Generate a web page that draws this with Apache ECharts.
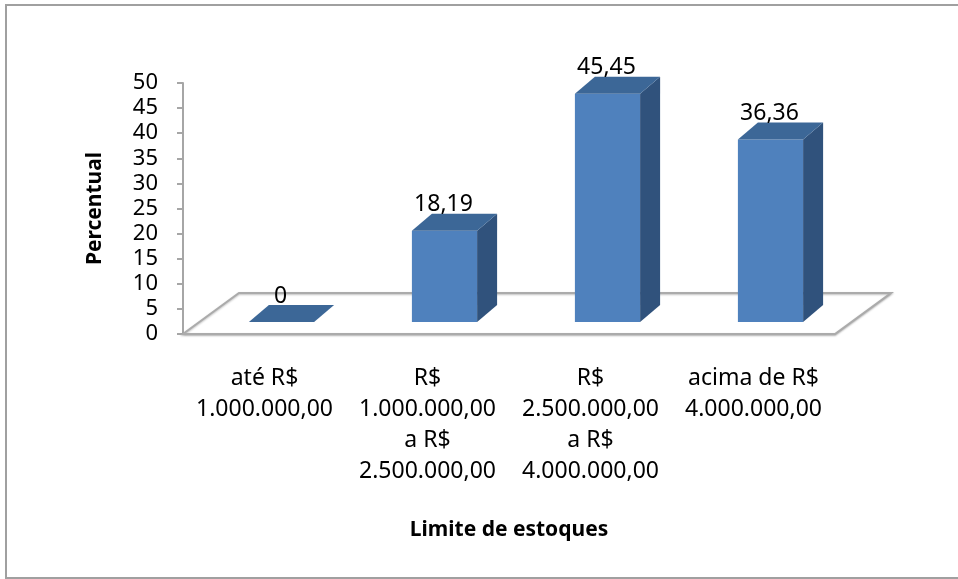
<!DOCTYPE html>
<html>
<head>
<meta charset="utf-8">
<script src="https://cdn.jsdelivr.net/npm/echarts@6/dist/echarts.min.js"></script>
<style>
  html, body { margin: 0; padding: 0; background: #fff; overflow: hidden; }
  #chart { width: 958px; height: 579px; }
</style>
</head>
<body>
<div id="chart"></div>
<script>
// Share of companies by inventory limit
const categories = [
  'até R$\n1.000.000,00',
  'R$\n1.000.000,00\na R$\n2.500.000,00',
  'R$\n2.500.000,00\na R$\n4.000.000,00',
  'acima de R$\n4.000.000,00'
];
const percentValues = [0, 18.19, 45.45, 36.36];
const yTicks = { min: 0, max: 50, interval: 5 };

// pseudo-3D geometry (pixels)
const FLOOR_DX = 56, FLOOR_DY = -41;   // floor depth
const BAR_OFF_X = 17, BAR_OFF_Y = -12; // bar front plane behind floor front
const BAR_DX = 20, BAR_DY = -17;       // bar depth
const BAR_RATIO = 0.4;

const COLOR_FRONT = '#4F81BD';
const COLOR_SIDE = '#30527C';
const COLOR_TOP = '#3C6797';
const FONT = '"Noto Sans", sans-serif';

const chart = echarts.init(document.getElementById('chart'));

function fmt(v) { return String(v).replace('.', ','); }

chart.setOption({
  animation: false,
  backgroundColor: '#fff',
  textStyle: { fontFamily: FONT },
  graphic: [{
    type: 'polyline',
    shape: { points: [[1200, 5], [6, 5], [6, 578], [1200, 578]] },
    style: { fill: 'none', stroke: '#A0A0A0', lineWidth: 2 },
    silent: true, z: -10
  }],
  grid: { left: 183, right: 123, top: 83, bottom: 245 },
  xAxis: {
    type: 'category',
    data: categories,
    axisLine: { show: false },
    axisTick: { show: false },
    axisLabel: {
      interval: 0, margin: 29, fontSize: 23, lineHeight: 31,
      color: '#000', fontFamily: FONT, align: 'center'
    },
    name: 'Limite de estoques',
    nameLocation: 'middle',
    nameGap: 186,
    nameTextStyle: { fontSize: 21, fontWeight: 'bold', color: '#000', fontFamily: FONT }
  },
  yAxis: {
    type: 'value',
    min: yTicks.min, max: yTicks.max, interval: yTicks.interval,
    splitLine: { show: false },
    axisLine: { show: true, lineStyle: { color: '#A6A6A6', width: 2 } },
    axisTick: { show: true, length: 6, lineStyle: { color: '#A6A6A6', width: 2 } },
    axisLabel: { margin: 25, fontSize: 22, color: '#000', fontFamily: FONT },
    name: 'Percentual',
    nameLocation: 'middle',
    nameGap: 77,
    nameRotate: 90,
    nameTextStyle: { fontSize: 21, fontWeight: 'bold', color: '#000', fontFamily: FONT }
  },
  series: [
    {
      // floor of the 3D plot area
      type: 'custom',
      z: 1,
      silent: true,
      data: [[0, 0]],
      renderItem(params, api) {
        const cs = params.coordSys;
        const x0 = cs.x, x1 = cs.x + cs.width, y0 = cs.y + cs.height;
        const pts = [
          [x0, y0], [x1, y0],
          [x1 + FLOOR_DX, y0 + FLOOR_DY], [x0 + FLOOR_DX, y0 + FLOOR_DY]
        ];
        return {
          type: 'polygon',
          shape: { points: pts },
          style: {
            fill: '#fff', stroke: '#ABABAB', lineWidth: 2,
            shadowBlur: 2, shadowColor: 'rgba(0,0,0,0.25)', shadowOffsetY: 1
          }
        };
      }
    },
    {
      type: 'custom',
      z: 3,
      data: percentValues.map((v, i) => [i, v]),
      renderItem(params, api) {
        const i = api.value(0), v = api.value(1);
        const base = api.coord([i, 0]);
        const top = api.coord([i, v]);
        const band = api.size([1, 0])[0];
        const w = band * BAR_RATIO;
        const fl = base[0] + BAR_OFF_X - w / 2;
        const fr = fl + w;
        const fb = base[1] + BAR_OFF_Y;
        const ft = fb - (base[1] - top[1]);
        const children = [];
        if (v > 0) {
          children.push({
            type: 'rect',
            shape: { x: fl, y: ft, width: w, height: fb - ft },
            style: { fill: COLOR_FRONT }
          });
          children.push({
            type: 'polygon',
            shape: { points: [[fr, ft], [fr + BAR_DX, ft + BAR_DY], [fr + BAR_DX, fb + BAR_DY], [fr, fb]] },
            style: { fill: COLOR_SIDE }
          });
        }
        children.push({
          type: 'polygon',
          shape: { points: [[fl, ft], [fr, ft], [fr + BAR_DX, ft + BAR_DY], [fl + BAR_DX, ft + BAR_DY]] },
          style: { fill: COLOR_TOP }
        });
        children.push({
          type: 'text',
          style: {
            text: fmt(v),
            x: (fl + fr) / 2 - 1, y: ft + BAR_DY - 9,
            align: 'center', verticalAlign: 'middle',
            fontSize: 23, fontFamily: FONT, fill: '#000'
          }
        });
        return { type: 'group', children };
      }
    }
  ]
});
</script>
</body>
</html>
